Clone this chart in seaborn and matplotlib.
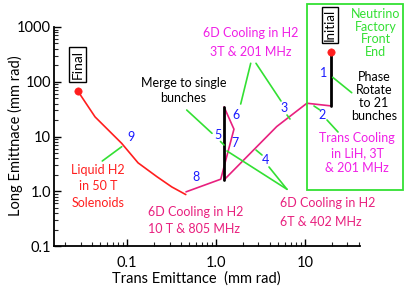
import matplotlib
matplotlib.use("Agg")
import numpy as np
import pandas as pd
import seaborn as sns
import matplotlib.pyplot as plt
from matplotlib.patches import Rectangle
from matplotlib.lines import Line2D
from matplotlib.ticker import FixedLocator, FixedFormatter, LogLocator, NullFormatter

# ---------------- data (trans emittance, long emittance; mm rad) ----------------
phase_rot_trans = [19.6, 19.6]
phase_rot_long = [354, 36.2]

cool_a_trans = [19.6, 10.5, 4.81, 1.23]
cool_a_long = [36.2, 40.5, 15.2, 1.61]

merge_trans = [1.23, 1.23]
merge_long = [1.61, 34.7]

cool_b_trans = [1.23, 1.59, 1.13, 0.46]
cool_b_long = [34.7, 13.6, 1.66, 0.975]

final_trans = [0.457, 0.318, 0.216, 0.133, 0.087, 0.0437, 0.0279]
final_long = [0.87, 1.2, 1.85, 3.3, 7.5, 22.8, 68]

x_ticks = [0.1, 1.0, 10]
x_tick_labels = ["0.1", "1.0", "10"]
y_ticks = [0.1, 1.0, 10, 100, 1000]
y_tick_labels = ["0.1", "1.0", "10", "100", "1000"]

# ---------------- style ----------------
sns.set_style("ticks")
plt.rcParams["font.family"] = ["Lato", "DejaVu Sans"]

W, H = 409, 291
fig = plt.figure(figsize=(W / 100, H / 100), dpi=100)
ax = fig.add_axes([54 / W, 1 - 246 / H, (360 - 54) / W, (246 - 27) / H])

RED = "#ff1e1e"
PINK = "#e8207e"
MAG = "#f020e6"
GREEN = "#33e033"
BLUE = "#1a1aff"

def seg(xs, ys, color, lw):
    df = pd.DataFrame({"trans": xs, "long": ys})
    sns.lineplot(data=df, x="trans", y="long", sort=False, estimator=None,
                 color=color, lw=lw, ax=ax)

seg(cool_a_trans, cool_a_long, PINK, 1.2)
seg(cool_b_trans, cool_b_long, PINK, 1.2)
seg(final_trans, final_long, RED, 1.2)
seg(phase_rot_trans, phase_rot_long, "black", 2.0)
seg(merge_trans, merge_long, "black", 2.0)

sns.scatterplot(x=[phase_rot_trans[0], final_trans[-1]], y=[phase_rot_long[0], final_long[-1]],
                color=RED, s=28, edgecolor=RED, ax=ax, zorder=5)

ax.set_xscale("log")
ax.set_yscale("log")
ax.set_xlim(0.0151, 41.5)
ax.set_ylim(0.1, 1000)

ax.xaxis.set_major_locator(FixedLocator(x_ticks))
ax.xaxis.set_major_formatter(FixedFormatter(x_tick_labels))
ax.yaxis.set_major_locator(FixedLocator(y_ticks))
ax.yaxis.set_major_formatter(FixedFormatter(y_tick_labels))
ax.xaxis.set_minor_locator(LogLocator(base=10, subs=np.arange(2, 10)))
ax.yaxis.set_minor_locator(LogLocator(base=10, subs=np.arange(2, 10)))
ax.xaxis.set_minor_formatter(NullFormatter())
ax.yaxis.set_minor_formatter(NullFormatter())
ax.tick_params(which="major", direction="in", length=5, width=1.0, labelsize=10.5,
               colors="black")
ax.tick_params(which="minor", direction="in", length=3, width=0.8)
ax.tick_params(axis="y", which="major", pad=2)
ax.tick_params(axis="x", which="major", pad=7)
for s in ["top", "right"]:
    ax.spines[s].set_visible(False)
for s in ["left", "bottom"]:
    ax.spines[s].set_linewidth(1.3)
    ax.spines[s].set_color("black")
ax.set_xlabel("")
ax.set_ylabel("")

def fx(px):
    return px / W

def fy(py):
    return 1 - py / H

def ftext(px, py, s, color="black", size=9, ha="center", va="center", **kw):
    fig.text(fx(px), fy(py), s, color=color, fontsize=size, ha=ha, va=va, **kw)

def gline(x0, y0, x1, y1):
    fig.add_artist(Line2D([fx(x0), fx(x1)], [fy(y0), fy(y1)], color=GREEN, lw=1.2,
                          transform=fig.transFigure, zorder=1))

# axis labels
ftext(15, 136, "Long Emittnace (mm rad)", size=10.5, rotation=90)
ftext(196, 279, "Trans Emittance  (mm rad)", size=10.5)

# green box
fig.add_artist(Rectangle((fx(307), fy(190)), fx(403) - fx(307), fy(4) - fy(190),
                         transform=fig.transFigure, fill=False, edgecolor=GREEN, lw=1.3))

# boxed labels
ftext(77.5, 64.5, "Final", size=10, rotation=90,
      bbox=dict(boxstyle="square,pad=0.2", fc="white", ec="black", lw=1.0))
ftext(330, 25, "Initial", size=9.5, rotation=90,
      bbox=dict(boxstyle="square,pad=0.12", fc="white", ec="black", lw=1.0))

# green pointers
gline(332.7, 77.3, 351.7, 92.7)
gline(314, 106, 320, 110)
gline(327, 120, 338, 132)
gline(250.7, 63.3, 240.7, 104)
gline(256, 63.3, 281, 101)
gline(287, 115, 290, 119)
gline(186.7, 110, 212, 133.3)
gline(220.5, 141.5, 224, 145)
gline(287, 189.3, 227, 151)
gline(287, 189.3, 269, 167)
gline(262, 155, 256, 150)
gline(102.3, 161, 121.7, 146.7)

# step numbers
for px, py, s in [(324, 73, "1"), (321.7, 115, "2"), (284, 108, "3"), (265, 160, "4"),
                  (218, 135, "5"), (236, 115, "6"), (235, 143, "7"), (196, 177, "8"),
                  (130.7, 136.7, "9")]:
    ftext(px, py, s, color=BLUE, size=9)

# descriptive texts
for i, s in enumerate(["Neutrino", "Factory", "Front", "End"]):
    ftext(375.5, 14 + 12.7 * i, s, color=GREEN, size=9)
for i, s in enumerate(["Phase", "Rotate", "to 21", "bunches"]):
    ftext(374, 76.7 + 13.1 * i, s, color="black", size=9)
for i, s in enumerate(["Trans Cooling", "in LiH, 3T", "& 201 MHz"]):
    ftext(357, 138.3 + 14.8 * i, s, color=MAG, size=9)
ftext(250.7, 33.3, "6D Cooling in H2", color=MAG, size=9)
ftext(250.7, 51.7, "3T & 201 MHz", color=MAG, size=9)
ftext(184, 83.3, "Merge to single", color="black", size=9)
ftext(183, 98.3, "bunches", color="black", size=9)
for i, s in enumerate(["Liquid H2", "in 50 T", "Solenoids"]):
    ftext(98, 170 + 16.3 * i, s, color=RED, size=9)
ftext(196, 211.7, "6D Cooling in H2", color=PINK, size=9)
ftext(194, 229, "10 T & 805 MHz", color=PINK, size=9)
ftext(280, 203, "6D Cooling in H2", color=PINK, size=9, ha="left")
ftext(280, 222, "6T & 402 MHz", color=PINK, size=9, ha="left")

fig.savefig("out.png", dpi=100)
